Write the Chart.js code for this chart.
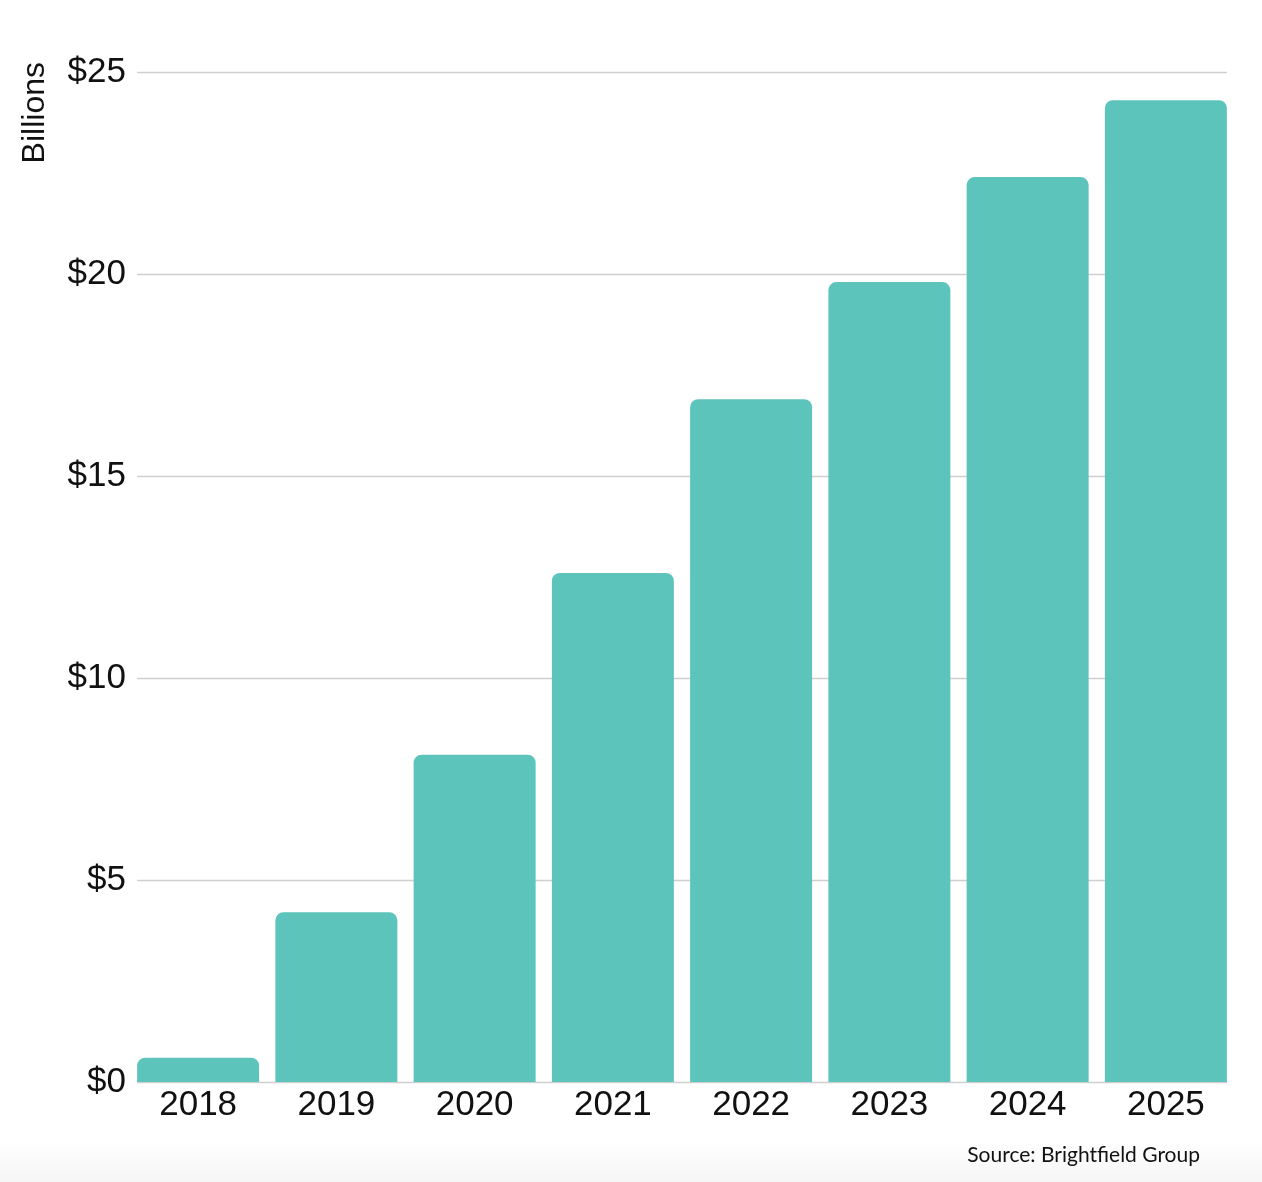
<!DOCTYPE html>
<html>
<head>
<meta charset="utf-8">
<script src="https://cdn.jsdelivr.net/npm/chart.js@4.4.1/dist/chart.umd.min.js"></script>
<style>
	html, body { margin: 0; padding: 0; }
	body {
		width: 1262px;
		height: 1182px;
		overflow: hidden;
		background: linear-gradient(to bottom, #ffffff 0px, #ffffff 1140px, #f6f6f6 1182px);
		position: relative;
	}
	.chart-wrap { position: absolute; left: 0; top: 0; width: 1262px; height: 1182px; }
	.source {
		position: absolute;
		right: 62px;
		top: 1141px;
		font-family: Lato, "Open Sans", sans-serif;
		font-size: 21px;
		color: #111;
	}
</style>
</head>
<body>
<div class="chart-wrap"><canvas id="market-chart"></canvas></div>
<div class="source">Source: Brightfield Group</div>
<script>
// Chart data
const years = ["2018", "2019", "2020", "2021", "2022", "2023", "2024", "2025"];
const salesBillions = [0.6, 4.2, 8.1, 12.6, 16.9, 19.8, 22.4, 24.3];
const yTicks = [0, 5, 10, 15, 20, 25];
const yTitle = "Billions";

const theme = {
	bar: "#5dc4bc",
	grid: "#cfcfcf",
	text: "#111111",
	font: "'Liberation Sans', Arial, Helvetica, sans-serif"
};

// gridlines only span from the first bar's left edge to the last bar's right edge
const insetGrid = {
	id: "insetGrid",
	beforeDatasetsDraw(chart) {
		const meta = chart.getDatasetMeta(0);
		if (!meta.data.length) return;
		const first = meta.data[0];
		const last = meta.data[meta.data.length - 1];
		const x0 = first.x - first.width / 2;
		const x1 = last.x + last.width / 2;
		const y = chart.scales.y;
		const ctx = chart.ctx;
		ctx.save();
		ctx.strokeStyle = theme.grid;
		ctx.lineWidth = 1.5;
		y.ticks.forEach((tick) => {
			const py = Math.round(y.getPixelForValue(tick.value)) + 0.5;
			ctx.beginPath();
			ctx.moveTo(x0, py);
			ctx.lineTo(x1, py);
			ctx.stroke();
		});
		ctx.restore();
	}
};

// rotated axis title, its end sits a little above the top gridline
const axisTitle = {
	id: "axisTitle",
	afterDraw(chart) {
		const ctx = chart.ctx;
		ctx.save();
		ctx.translate(44, chart.chartArea.top - 10);
		ctx.rotate(-Math.PI / 2);
		ctx.font = `32px ${theme.font}`;
		ctx.fillStyle = theme.text;
		ctx.textAlign = "right";
		ctx.textBaseline = "alphabetic";
		ctx.fillText(yTitle, 0, 0);
		ctx.restore();
	}
};

function buildChart(ctx) {
	return new Chart(ctx, {
		type: "bar",
		data: {
			labels: years,
			datasets: [
				{
					data: salesBillions,
					backgroundColor: theme.bar,
					borderRadius: 8,
					borderSkipped: "start",
					barPercentage: 0.8825,
					categoryPercentage: 1
				}
			]
		},
		options: {
			responsive: true,
			maintainAspectRatio: false,
			animation: false,
			layout: { padding: { top: 72, right: 27, bottom: 0, left: 0 } },
			plugins: {
				legend: { display: false },
				tooltip: { enabled: false }
			},
			scales: {
				x: {
					grid: { display: false },
					border: { display: false },
					ticks: {
						color: theme.text,
						padding: -6,
						maxRotation: 0,
						font: { family: theme.font, size: 35 }
					},
					afterFit: (axis) => { axis.height = 100; }
				},
				y: {
					min: 0,
					max: 25,
					afterBuildTicks: (axis) => { axis.ticks = yTicks.map((v) => ({ value: v })); },
					grid: { display: false, drawTicks: false },
					border: { display: false },
					ticks: {
						color: theme.text,
						padding: 3,
						font: { family: theme.font, size: 35 },
						callback: (value) => `$${value}`
					},
					afterFit: (axis) => { axis.width = 129; }
				}
			}
		},
		plugins: [insetGrid, axisTitle]
	});
}

window.marketChart = buildChart(document.getElementById("market-chart"));
</script>
</body>
</html>
